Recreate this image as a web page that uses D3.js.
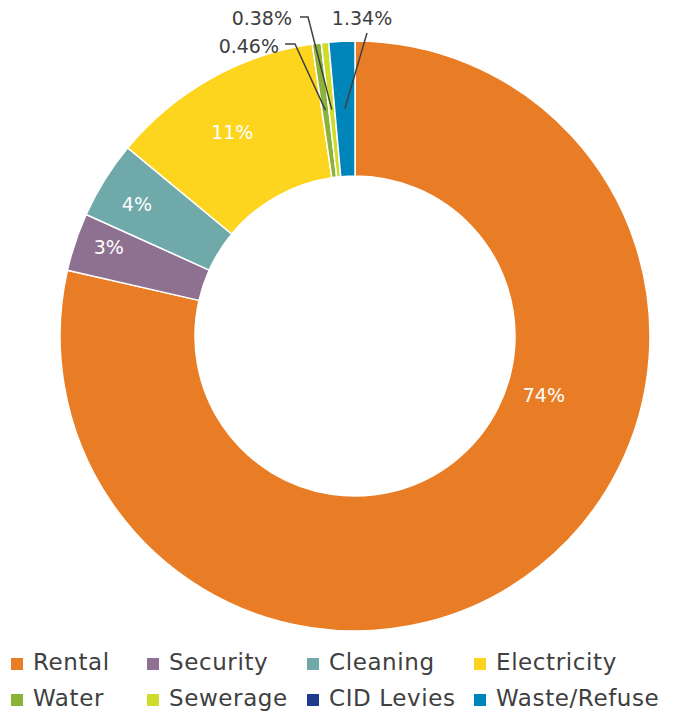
<!DOCTYPE html>
<html>
<head>
<meta charset="utf-8">
<script src="https://cdn.jsdelivr.net/npm/d3@7"></script>
<style>
  html, body { margin: 0; padding: 0; background: #fff; }
  svg { display: block; }
  text { font-family: "DejaVu Sans", sans-serif; }
</style>
</head>
<body>
<svg id="chart" width="680" height="713"></svg>
<script>
// Monthly cost breakdown (percent of total)
const categories = ["Rental", "Security", "Cleaning", "Electricity", "Water", "Sewerage", "CID Levies", "Waste/Refuse"];
const shares     = [74, 3, 4, 11, 0.46, 0.38, 0, 1.34];
const shareLabels = ["74%", "3%", "4%", "11%", "0.46%", "0.38%", "", "1.34%"];
const colors     = ["#E97D26", "#8E7190", "#6FA9A9", "#FDD41E", "#8BB33A", "#CFDC2A", "#1F3B8F", "#0085BA"];

const W = 680, H = 713;
const cx = 355, cy = 336;
const outerR = 295, innerR = 160, midR = (outerR + innerR) / 2;

const svg = d3.select("#chart");
const data = categories.map((c, i) => ({ name: c, value: shares[i], label: shareLabels[i], color: colors[i] }));

const pie = d3.pie().value(d => d.value).sort(null).startAngle(0).endAngle(2 * Math.PI);
const arcs = pie(data);

const arc = d3.arc().innerRadius(innerR).outerRadius(outerR);

const g = svg.append("g").attr("transform", `translate(${cx},${cy})`);

g.selectAll("path.slice")
  .data(arcs.filter(a => a.data.value > 0))
  .join("path")
  .attr("class", "slice")
  .attr("d", arc)
  .attr("fill", a => a.data.color)
  .attr("stroke", "#fff")
  .attr("stroke-width", 1.5)
  .attr("stroke-linejoin", "round");

// polar helper: angle measured clockwise from 12 o'clock
const polar = (ang, r) => [r * Math.sin(ang), -r * Math.cos(ang)];

// labels drawn inside the ring (fraction along the slice, radius)
const inside = {
  "Rental":      { frac: 0.38, r: 198 },
  "Security":    { frac: 0.62, r: 262 },
  "Cleaning":    { frac: 0.45, r: 255 },
  "Electricity": { frac: 0.46, r: 238 }
};
arcs.filter(a => inside[a.data.name]).forEach(a => {
  const p = inside[a.data.name];
  const ang = a.startAngle + (a.endAngle - a.startAngle) * p.frac;
  const [x, y] = polar(ang, p.r);
  g.append("text")
    .attr("x", x).attr("y", y)
    .attr("text-anchor", "middle")
    .attr("dominant-baseline", "central")
    .attr("fill", "#fff")
    .attr("font-size", 19)
    .text(a.data.label);
});

// small slices: leader line from the ring centre-line to a label above the chart
const callouts = {
  "Water":        { elbow: [-60, -292], end: [-70, -292], anchor: "end",    tx: -76, ty: -290 },
  "Sewerage":     { elbow: [-47, -319], end: [-55, -319], anchor: "end",    tx: -63, ty: -318 },
  "Waste/Refuse": { elbow: [12, -303],  end: null,        anchor: "middle", tx: 7,   ty: -318 }
};
arcs.filter(a => callouts[a.data.name]).forEach(a => {
  const c = callouts[a.data.name];
  const mid = (a.startAngle + a.endAngle) / 2;
  const pts = [polar(mid, midR), c.elbow];
  if (c.end) pts.push(c.end);
  g.append("path")
    .attr("d", d3.line()(pts))
    .attr("fill", "none")
    .attr("stroke", "#404040")
    .attr("stroke-width", 1.5);
  g.append("text")
    .attr("x", c.tx).attr("y", c.ty)
    .attr("text-anchor", c.anchor)
    .attr("dominant-baseline", "central")
    .attr("fill", "#404040")
    .attr("font-size", 19)
    .text(a.data.label);
});

// legend: four columns, two rows
const colX = [11, 147, 307, 474];
const rowY = [664, 700];
const legend = svg.append("g");
data.forEach((d, i) => {
  const x = colX[i % 4], y = rowY[Math.floor(i / 4)];
  legend.append("rect")
    .attr("x", x).attr("y", y - 6)
    .attr("width", 12).attr("height", 12)
    .attr("fill", d.color);
  legend.append("text")
    .attr("x", x + 22).attr("y", y + 6)
    .attr("fill", "#404040")
    .attr("font-size", 23)
    .attr("letter-spacing", 0.6)
    .text(d.name);
});
</script>
</body>
</html>
